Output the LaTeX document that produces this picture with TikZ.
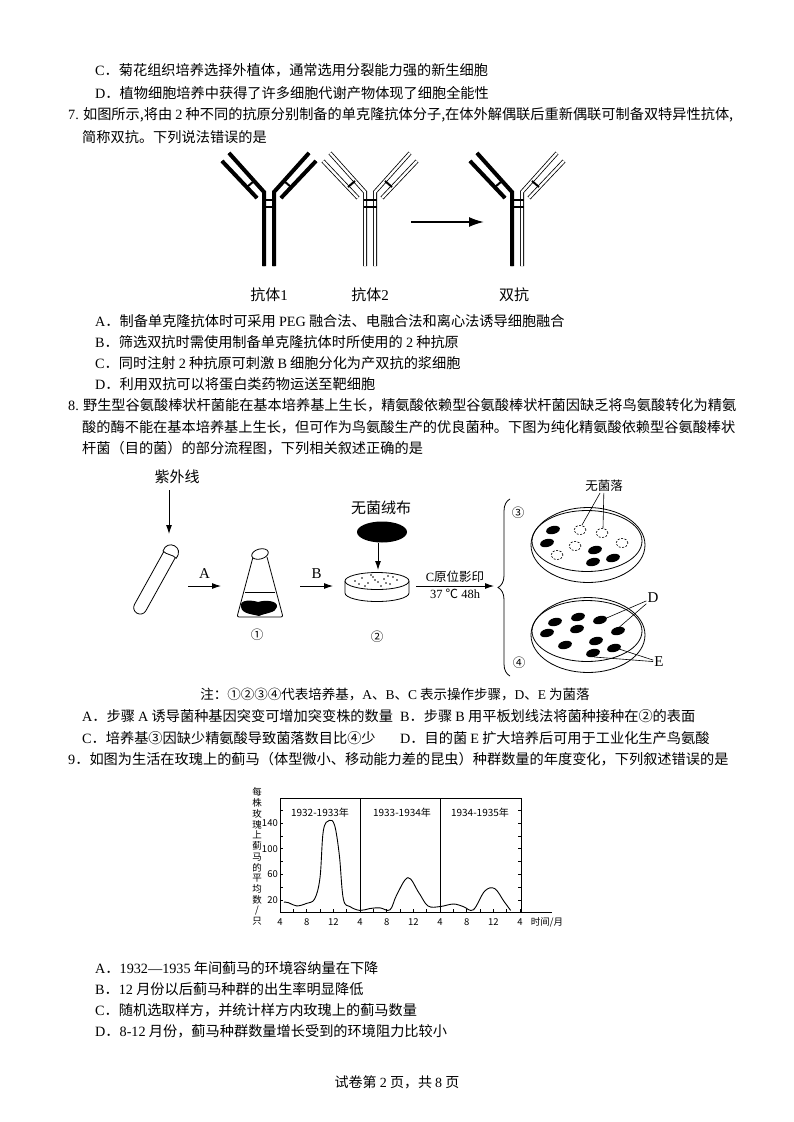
\documentclass[tikz,border=0pt]{standalone}
\usepackage{fontspec}
\setmainfont{Liberation Serif}
\newfontfamily\cjk{Noto Sans CJK SC}
\newfontfamily\latf{Liberation Serif}
\newcommand{\lat}[1]{{\latf #1}}
\usetikzlibrary{arrows.meta,positioning,shapes.geometric,decorations.pathreplacing}

\begin{document}
\begin{tikzpicture}[x=1pt,y=-1pt,
  txt/.style={anchor=west,inner sep=0pt,font=\cjk\fontsize{14.2pt}{16pt}\selectfont},
  lbl/.style={inner sep=1pt,font=\cjk\fontsize{15pt}{16pt}\selectfont},
  sml/.style={inner sep=1pt,font=\cjk\fontsize{12.5pt}{14pt}\selectfont},
  tny/.style={inner sep=0pt,font=\cjk\fontsize{9.5pt}{10pt}\selectfont},
  abchain/.style={line width=0.8pt,double distance=2.4pt},
  arr/.style={-{Latex[length=9pt,width=6pt]},line width=0.9pt},
  nocolony/.style={draw,line width=0.6pt,dash pattern=on 2pt off 1.5pt}]
\path[fill=white] (0,0) rectangle (794,1122);

% end of question 6
\node[txt] (q6c) at (95,70) {\lat{C}．菊花组织培养选择外植体，通常选用分裂能力强的新生细胞};
\node[txt] (q6d) at (95,93) {\lat{D}．植物细胞培养中获得了许多细胞代谢产物体现了细胞全能性};

% question 7
\node[txt] (q7) at (68,115) {\lat{7.} 如图所示,将由 \lat{2} 种不同的抗原分别制备的单克隆抗体分子,在体外解偶联后重新偶联可制备双特异性抗体,};
\node[txt] (q7b) at (82,137) {简称双抗。下列说法错误的是};

\foreach \cx/\lc/\rc in {269/black/black,370/white/white,517/black/white}{
  \foreach \sx/\fc in {1/\lc,-1/\rc}{
    \begin{scope}[shift={(\cx,190)},xscale=\sx]
      \draw[abchain,double=\fc] (-5,76) -- (-5,2) -- (-40,-37);
      \draw[abchain,double=\fc] (-12,8) -- (-47,-29);
      \draw[line width=2pt] (-15,-9) -- (-22,-3);
    \end{scope}
  }
  \draw[line width=2pt] ({\cx-6.5},200) -- ({\cx+6.5},200) ({\cx-6.5},207) -- ({\cx+6.5},207);
}
\node[lbl] (ab1) at (269,295) {抗体\lat{1}};
\node[lbl] (ab2) at (370,295) {抗体\lat{2}};
\node[lbl] (bsab) at (514,295) {双抗};
\coordinate (m1) at (411,222);
\coordinate (m2) at (484,222);
\draw[-{Latex[length=15pt,width=10pt]},line width=1.8pt] (m1) -- (m2);

\node[txt] (q7a) at (95,321) {\lat{A}．制备单克隆抗体时可采用 \lat{PEG} 融合法、电融合法和离心法诱导细胞融合};
\node[txt] (q7bb) at (95,342) {\lat{B}．筛选双抗时需使用制备单克隆抗体时所使用的 \lat{2} 种抗原};
\node[txt] (q7c) at (95,363) {\lat{C}．同时注射 \lat{2} 种抗原可刺激 \lat{B} 细胞分化为产双抗的浆细胞};
\node[txt] (q7d) at (95,384) {\lat{D}．利用双抗可以将蛋白类药物运送至靶细胞};

% question 8
\node[txt] (q8) at (68,405) {\lat{8.} 野生型谷氨酸棒状杆菌能在基本培养基上生长，精氨酸依赖型谷氨酸棒状杆菌因缺乏将鸟氨酸转化为精氨};
\node[txt] (q8b) at (82,427) {酸的酶不能在基本培养基上生长，但可作为鸟氨酸生产的优良菌种。下图为纯化精氨酸依赖型谷氨酸棒状};
\node[txt] (q8c) at (82,448) {杆菌（目的菌）的部分流程图，下列相关叙述正确的是};

\node[lbl] (uv) at (177,477) {紫外线};
\coordinate (uv1) at (169,490);
\coordinate (uv2) at (169,534);
\draw[arr] (uv1) -- (uv2);
\begin{scope}[shift={(171,552)},rotate=-29]
  \draw[line width=0.8pt,rounded corners=6.4pt] (-6.5,0) -- (-6.5,70) -- (6.5,70) -- (6.5,0);
  \draw[line width=0.8pt,fill=white] (-7.5,3) .. controls (-10,-10) and (10,-11) .. (7.5,3) .. controls (3,1) and (-3,5) .. (-7.5,3);
\end{scope}

\coordinate (a1) at (188,586);
\coordinate (a2) at (221,586);
\draw[arr] (a1) -- (a2) node[midway,above=6pt,lbl] {\lat{A}};

% flask 1
\draw[line width=0.8pt,rounded corners=2pt] (253,557) -- (237,617) -- (283,617) -- (267,557);
\draw[line width=0.8pt,fill=white,rotate around={15:(260,554)}] (260,554) ellipse [x radius=8.5pt,y radius=5pt];
\draw[line width=0.8pt] (245,592) -- (275,592);
\fill (241,607) .. controls (239,599) and (252,600) .. (258,602) .. controls (264,600) and (278,600) .. (277,607) .. controls (276,613) and (265,613) .. (259,616) .. controls (252,614) and (242,614) .. (241,607);
\node[sml] (c1) at (257,635) {①};

\coordinate (b1) at (300,586);
\coordinate (b2) at (333,586);
\draw[arr] (b1) -- (b2) node[midway,above=6pt,lbl] {\lat{B}};

% plate 2
\draw[line width=0.8pt] (345,581) -- (345,593) arc[start angle=180,end angle=360,x radius=32pt,y radius=8.5pt] -- (409,581);
\draw[line width=0.8pt,fill=white] (377,581) ellipse [x radius=32pt,y radius=8.5pt];
\foreach \dx/\dy in {-22/0,-15/-3,-9/2,-4/-4,1/1,7/-2,13/3,20/-1,-12/5,4/5,11/-5,-2/-1,-18/3,16/-4,-6/-6,9/2}
  \fill ({377+\dx},{581+\dy}) circle (0.8pt);
\node[sml] (c2) at (377,637) {②};
\node[lbl] (vel) at (381,508) {无菌绒布};
\node[ellipse,fill=black,minimum width=50pt,minimum height=21pt,inner sep=0pt] (pad) at (382,532) {};
\coordinate (padend) at (378,570);
\draw[arr] (pad.south -| padend) -- (padend);

\coordinate (c0) at (416,586);
\coordinate (brc) at (494,586);
\draw[arr] (c0) -- (brc) node[midway,above=2pt,sml] {\lat{C}原位影印} node[midway,below=2pt,sml] {\lat{37 }℃\lat{ 48h}};
\draw[line width=0.8pt,decorate,decoration={brace,amplitude=12pt}] (510,676) -- (510,499);

% plates 3 and 4
\node[sml] (c3) at (518,513) {③};
\node[sml] (c4) at (519,663) {④};
\foreach \cy in {545,635}{
  \draw[line width=0.8pt] (588,\cy) ellipse [x radius=57pt,y radius=37.5pt];
  \draw[line width=0.8pt] (587,{\cy-4}) ellipse [x radius=55pt,y radius=30.5pt];
}
\foreach \x/\y in {553/530,547/543,595/550,593/562,613/558,555/622,578/617,600/620,547/633,577/629,618/631,565/645,596/641,614/648,593/653}
  \fill[rotate around={14:(\x,\y)}] (\x,\y) ellipse [x radius=7pt,y radius=4pt];
\foreach \x/\y in {580/530,602/533,622/543,575/546,557/555}
  \draw[nocolony] (\x,\y) ellipse [x radius=6pt,y radius=4.5pt];
\node[sml] (nocol) at (604,486) {无菌落};
\coordinate (n1) at (582,525);
\coordinate (n2) at (603,528);
\draw[line width=0.6pt] (nocol) -- (n1);
\draw[line width=0.6pt] (nocol) -- (n2);
\node[lbl] (D) at (653,598) {\lat{D}};
\coordinate (d1) at (602,620);
\coordinate (d2) at (616,630);
\draw[line width=0.6pt] (D) -- (d1);
\draw[line width=0.6pt] (D) -- (d2);
\node[lbl] (E) at (659,662) {\lat{E}};
\coordinate (e1) at (616,648);
\coordinate (e2) at (594,657);
\draw[line width=0.6pt] (E) -- (e1);
\draw[line width=0.6pt] (E) -- (e2);

\node[inner sep=0pt,font=\cjk\fontsize{13.5pt}{14pt}\selectfont] (note) at (395,694) {注：①②③④代表培养基，\lat{A}、\lat{B}、\lat{C} 表示操作步骤，\lat{D}、\lat{E} 为菌落};
\node[txt] (q8a) at (82,716) {\lat{A}．步骤 \lat{A} 诱导菌种基因突变可增加突变株的数量};
\node[txt] (q8bb) at (400,716) {\lat{B}．步骤 \lat{B} 用平板划线法将菌种接种在②的表面};
\node[txt] (q8cc) at (82,738) {\lat{C}．培养基③因缺少精氨酸导致菌落数目比④少};
\node[txt] (q8d) at (400,738) {\lat{D}．目的菌 \lat{E} 扩大培养后可用于工业化生产鸟氨酸};

% question 9
\node[txt] (q9) at (68,759) {\lat{9}．如图为生活在玫瑰上的蓟马（体型微小、移动能力差的昆虫）种群数量的年度变化，下列叙述错误的是};

\draw[line width=0.7pt] (280,798) rectangle (521,912);
\draw[line width=0.7pt] (360,798) -- (360,912) (440,798) -- (440,912);
\draw[line width=0.7pt] (521,912) -- (552,912);
\foreach \v in {20,40,...,160}
  \draw[line width=0.5pt] (280,{913-0.643*\v}) -- ++(3,0) (521,{913-0.643*\v}) -- ++(-3,0);
\foreach \v in {20,60,100,140}
  \node[tny,anchor=east] at (278,{913-0.643*\v}) {\v};
\foreach \m in {2,4,...,36}
  \draw[line width=0.5pt] ({280+\m*6.667},912) -- ++(0,-3);
\foreach \m/\t in {0/4,4/8,8/12,12/4,16/8,20/12,24/4,28/8,32/12,36/4}
  \node[tny] at ({280+\m*6.667},922) {\t};
\node[tny] (tlab) at (547,922) {时间/月};
\foreach \ch [count=\i] in {每,株,玫,瑰,上,蓟,马,的,平,均,数,/,只}
  \node[tny] at (257,{792+(\i-1)*10.8}) {\ch};
\node[tny,font=\cjk\fontsize{10pt}{10pt}\selectfont] (y1) at (320,813) {1932-1933年};
\node[tny,font=\cjk\fontsize{10pt}{10pt}\selectfont] (y2) at (402,813) {1933-1934年};
\node[tny,font=\cjk\fontsize{10pt}{10pt}\selectfont] (y3) at (480,813) {1934-1935年};
\begin{scope}[shift={(253.33,913)},x=6.667pt,y=0.643pt]
  \draw[line width=0.9pt] plot[smooth,tension=0.6] coordinates {(4.6,17) (5.3,16) (6.5,11) (8,15) (9.2,22) (10,55) (10.5,128) (11.4,144) (12.2,136) (12.9,90) (13.5,22) (14.5,10) (16,4) (17.5,7) (19,8) (20.5,5) (21.5,28) (23.2,55) (24.8,32) (26.2,11) (28,10) (30,14) (31.5,10) (33,5) (34.7,34) (36.2,38) (37.6,18) (38.6,4)};
\end{scope}

\node[txt] (q9a) at (95,968) {\lat{A}．\lat{1932—1935} 年间蓟马的环境容纳量在下降};
\node[txt] (q9b) at (95,989) {\lat{B}．\lat{12} 月份以后蓟马种群的出生率明显降低};
\node[txt] (q9c) at (95,1010) {\lat{C}．随机选取样方，并统计样方内玫瑰上的蓟马数量};
\node[txt] (q9d) at (95,1031) {\lat{D}．\lat{8-12} 月份，蓟马种群数量增长受到的环境阻力比较小};

\node[inner sep=0pt,font=\cjk\fontsize{14pt}{14pt}\selectfont] (foot) at (397,1082) {试卷第 \lat{2} 页，共 \lat{8} 页};
\end{tikzpicture}
\end{document}
